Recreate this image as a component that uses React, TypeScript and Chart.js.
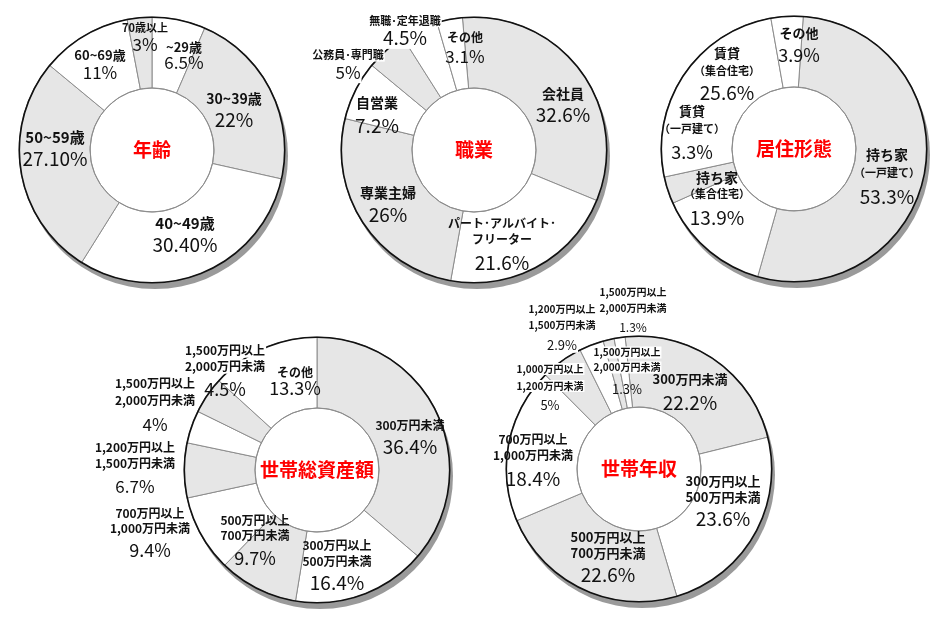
import React, { useEffect, useRef } from 'react';
import { Chart, registerables } from 'chart.js';

Chart.register(...registerables);

// ---------- data ----------
const ageCategories = ['~29歳', '30~39歳', '40~49歳', '50~59歳', '60~69歳', '70歳以上'];
const ageValues = [6.5, 22, 30.4, 27.1, 11, 3];
const agePctText = ['6.5%', '22%', '30.40%', '27.10%', '11%', '3%'];

const jobCategories = ['会社員', 'パート･アルバイト･\nフリーター', '専業主婦', '自営業', '公務員･専門職', '無職･定年退職', 'その他'];
const jobValues = [32.6, 21.6, 26, 7.2, 5, 4.5, 3.1];
const jobPctText = ['32.6%', '21.6%', '26%', '7.2%', '5%', '4.5%', '3.1%'];

const homeCategories = ['持ち家\n（一戸建て）', '持ち家\n（集合住宅）', '賃貸\n（一戸建て）', '賃貸\n（集合住宅）', 'その他'];
const homeValues = [53.3, 13.9, 3.3, 25.6, 3.9];
const homePctText = ['53.3%', '13.9%', '3.3%', '25.6%', '3.9%'];

const assetCategories = ['300万円未満', '300万円以上\n500万円未満', '500万円以上\n700万円未満', '700万円以上\n1,000万円未満', '1,200万円以上\n1,500万円未満', '1,500万円以上\n2,000万円未満', '1,500万円以上\n2,000万円未満', 'その他'];
const assetValues = [36.4, 16.4, 9.7, 9.4, 6.7, 4, 4.5, 13.3];
const assetPctText = ['36.4%', '16.4%', '9.7%', '9.4%', '6.7%', '4%', '4.5%', '13.3%'];

const incomeCategories = ['300万円未満', '300万円以上\n500万円未満', '500万円以上\n700万円未満', '700万円以上\n1,000万円未満', '1,000万円以上\n1,200万円未満', '1,200万円以上\n1,500万円未満', '1,500万円以上\n2,000万円未満', '1,500万円以上\n2,000万円未満'];
const incomeValues = [22.2, 23.6, 22.6, 18.4, 5, 2.9, 1.3, 1.3];
const incomePctText = ['22.2%', '23.6%', '22.6%', '18.4%', '5%', '2.9%', '1.3%', '1.3%'];

// ---------- styles / layout ----------
const G = '#e6e6e6';
const W = '#ffffff';
const SHADOW = '#9a9a9a';
const FONT = '"Noto Sans CJK JP", "Noto Sans", sans-serif';

type Lbl = { dx: number; dy: number; sizes: number[]; gaps: number[]; bg?: number };

const charts = [
  {
    title: '年齢', cx: 152, cy: 150, rotation: 0,
    categories: ageCategories, values: ageValues, pct: agePctText,
    colors: [W, G, W, G, W, G],
    layout: [
      { dx: 32, dy: -95, sizes: [13, 17], gaps: [16] },
      { dx: 82, dy: -41, sizes: [14, 19], gaps: [21] },
      { dx: 33, dy: 84, sizes: [15, 19], gaps: [22] },
      { dx: -97, dy: -2, sizes: [15, 19], gaps: [22] },
      { dx: -52, dy: -86, sizes: [13, 17], gaps: [17] },
      { dx: -7, dy: -114, sizes: [11, 17], gaps: [17] },
    ] as Lbl[],
  },
  {
    title: '職業', cx: 474, cy: 150, rotation: -5,
    categories: jobCategories, values: jobValues, pct: jobPctText,
    colors: [G, W, G, W, G, W, W],
    layout: [
      { dx: 89, dy: -46, sizes: [14, 19], gaps: [21] },
      { dx: 28, dy: 93, sizes: [12, 12, 19], gaps: [16, 23] },
      { dx: -86, dy: 54, sizes: [14, 19], gaps: [22] },
      { dx: -97, dy: -36, sizes: [14, 19], gaps: [23] },
      { dx: -126, dy: -86, sizes: [11, 17], gaps: [18], bg: 2 },
      { dx: -69, dy: -121, sizes: [11, 19], gaps: [17], bg: 2 },
      { dx: -9, dy: -103, sizes: [12, 17], gaps: [19] },
    ] as Lbl[],
  },
  {
    title: '居住形態', cx: 794, cy: 149, rotation: 4,
    categories: homeCategories, values: homeValues, pct: homePctText,
    colors: [G, W, G, W, W],
    layout: [
      { dx: 93, dy: 27, sizes: [14, 11, 19], gaps: [18, 24] },
      { dx: -77, dy: 49, sizes: [14, 11, 19], gaps: [16, 24] },
      { dx: -102, dy: -17, sizes: [13, 11, 18], gaps: [17, 24] },
      { dx: -67, dy: -76, sizes: [13, 11, 19], gaps: [18, 22] },
      { dx: 5, dy: -105, sizes: [13, 18], gaps: [22] },
    ] as Lbl[],
  },
  {
    title: '世帯総資産額', cx: 317, cy: 470, rotation: 0,
    categories: assetCategories, values: assetValues, pct: assetPctText,
    colors: [G, W, G, W, G, W, G, W],
    layout: [
      { dx: 93, dy: -34, sizes: [12, 19], gaps: [22] },
      { dx: 20, dy: 94, sizes: [12, 12, 19], gaps: [16, 22] },
      { dx: -62, dy: 69, sizes: [12, 12, 18], gaps: [15, 23] },
      { dx: -167, dy: 62, sizes: [12, 12, 18], gaps: [15, 22] },
      { dx: -182, dy: -3, sizes: [12, 12, 17], gaps: [16, 23] },
      { dx: -162, dy: -66, sizes: [12, 12, 17], gaps: [17, 25] },
      { dx: -92, dy: -100, sizes: [12, 12, 18], gaps: [16, 23], bg: 2 },
      { dx: -22, dy: -90, sizes: [12, 18], gaps: [16] },
    ] as Lbl[],
  },
  {
    title: '世帯年収', cx: 639, cy: 469, rotation: -6,
    categories: incomeCategories, values: incomeValues, pct: incomePctText,
    colors: [G, W, G, W, G, W, G, W],
    layout: [
      { dx: 51, dy: -78, sizes: [13, 19], gaps: [23] },
      { dx: 84, dy: 31, sizes: [13, 13, 19], gaps: [16, 21] },
      { dx: -31, dy: 87, sizes: [13, 13, 19], gaps: [16, 22] },
      { dx: -106, dy: -10, sizes: [12, 12, 19], gaps: [16, 23] },
      { dx: -89, dy: -82, sizes: [10, 10, 13], gaps: [17, 19], bg: 2 },
      { dx: -77, dy: -142, sizes: [10, 10, 13], gaps: [16, 20], bg: 3 },
      { dx: -12, dy: -98, sizes: [10, 10, 13], gaps: [15, 22], bg: 2 },
      { dx: -6, dy: -159, sizes: [10, 10, 12], gaps: [16, 19], bg: 3 },
    ] as Lbl[],
  },
];

const CW = 520;
const CH = 380;
const OUTER_R = 133;
const SHADOW_DX = 3;
const SHADOW_DY = 6;

function Donut({ cfg }: { cfg: (typeof charts)[number] }) {
  const ref = useRef<HTMLCanvasElement>(null);
  useEffect(() => {
    const canvas = ref.current;
    if (!canvas) return;
    const plugin = {
      id: 'ringDeco',
      afterDatasetsDraw(chart: any) {
        const arc = chart.getDatasetMeta(0).data[0];
        const x = arc.x;
        const y = arc.y;
        const outerRadius = arc.outerRadius;
        const innerRadius = arc.innerRadius;
        const ctx = chart.ctx as CanvasRenderingContext2D;
        ctx.save();
        ctx.strokeStyle = '#111111';
        ctx.lineWidth = 1.6;
        ctx.beginPath();
        ctx.arc(x, y, outerRadius - 0.3, 0, Math.PI * 2);
        ctx.stroke();
        ctx.strokeStyle = '#8c8c8c';
        ctx.lineWidth = 1;
        ctx.beginPath();
        ctx.arc(x, y, innerRadius, 0, Math.PI * 2);
        ctx.stroke();
        ctx.fillStyle = '#ff0000';
        ctx.font = `bold 19px ${FONT}`;
        ctx.textAlign = 'center';
        ctx.textBaseline = 'middle';
        ctx.fillText(cfg.title, x, y);
        cfg.layout.forEach((l, i) => {
          const lines = [...cfg.categories[i].split('\n'), cfg.pct[i]];
          const total = l.gaps.reduce((a, b) => a + b, 0);
          let ly = y + l.dy - total / 2;
          lines.forEach((t, j) => {
            const size = l.sizes[j];
            const isPct = j === lines.length - 1;
            ctx.font = `${isPct ? 'normal' : 'bold'} ${size}px ${FONT}`;
            const lx = x + l.dx;
            if (l.bg && j < l.bg) {
              const w = ctx.measureText(t).width;
              ctx.fillStyle = '#ffffff';
              ctx.fillRect(lx - w / 2 - 1, ly - size * 0.6, w + 2, size * 1.2);
            }
            ctx.fillStyle = '#111111';
            ctx.fillText(t, lx, ly);
            if (j < l.gaps.length) ly += l.gaps[j];
          });
        });
        ctx.restore();
      },
    };
    const chart = new Chart(canvas, {
      type: 'doughnut',
      data: {
        labels: cfg.categories.map((c) => c.replace('\n', '')),
        datasets: [
          {
            data: cfg.values,
            backgroundColor: cfg.colors,
            borderColor: '#8c8c8c',
            borderWidth: 1,
          },
        ],
      },
      options: {
        animation: false,
        responsive: false,
        maintainAspectRatio: false,
        rotation: cfg.rotation,
        radius: OUTER_R,
        cutout: '46.6%',
        layout: { padding: 0 },
        plugins: { legend: { display: false }, tooltip: { enabled: false } },
      } as any,
      plugins: [plugin],
    });
    return () => chart.destroy();
  }, [cfg]);
  return (
    <canvas
      ref={ref}
      width={CW}
      height={CH}
      style={{ position: 'absolute', left: cfg.cx - CW / 2, top: cfg.cy - CH / 2, width: CW, height: CH }}
    />
  );
}

function Backdrop({ cfg }: { cfg: (typeof charts)[number] }) {
  const d = OUTER_R * 2;
  return (
    <>
      <div
        style={{
          position: 'absolute', left: cfg.cx - OUTER_R + SHADOW_DX, top: cfg.cy - OUTER_R + SHADOW_DY,
          width: d, height: d, borderRadius: '50%', background: SHADOW,
        }}
      />
      <div
        style={{
          position: 'absolute', left: cfg.cx - OUTER_R, top: cfg.cy - OUTER_R,
          width: d, height: d, borderRadius: '50%', background: '#ffffff',
        }}
      />
    </>
  );
}

export default function App() {
  useEffect(() => {
    document.body.style.margin = '0';
  }, []);
  return (
    <div style={{ position: 'relative', width: 950, height: 623, overflow: 'hidden', background: '#ffffff' }}>
      {charts.map((c) => (
        <Backdrop key={'b' + c.title} cfg={c} />
      ))}
      {charts.map((c) => (
        <Donut key={c.title} cfg={c} />
      ))}
    </div>
  );
}
